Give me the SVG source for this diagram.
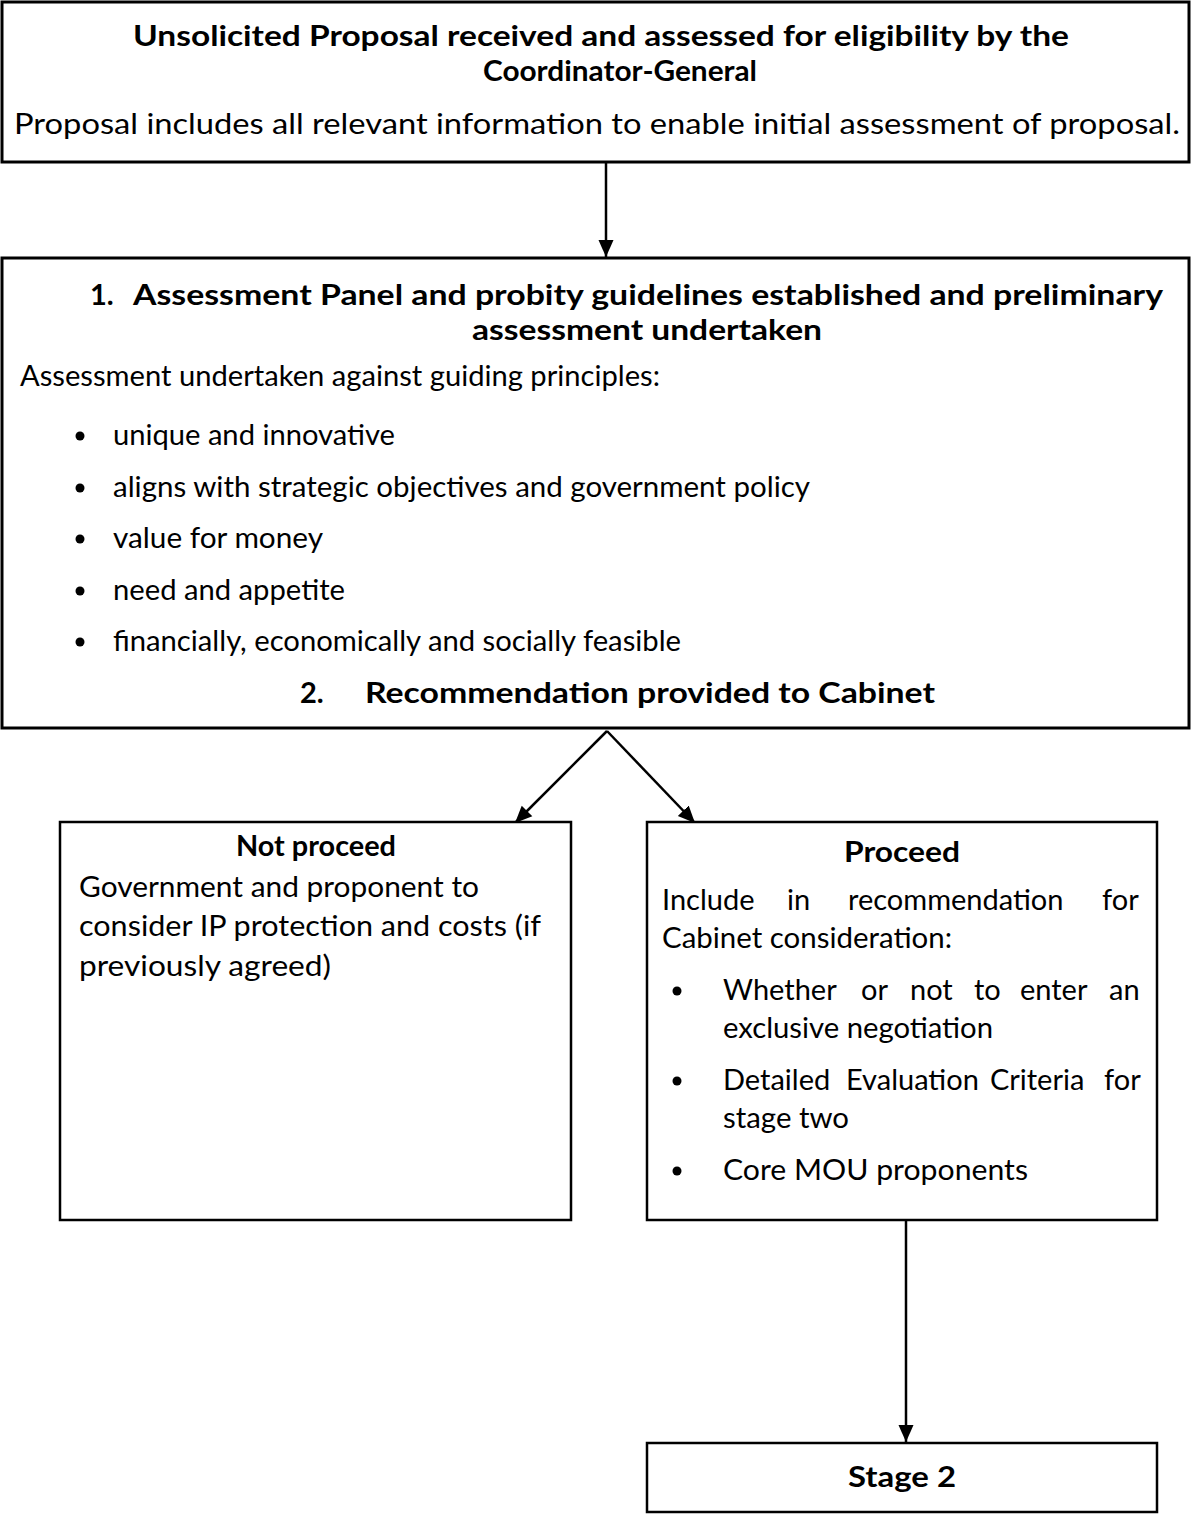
<svg xmlns="http://www.w3.org/2000/svg" width="1194" height="1516" viewBox="0 0 1194 1516">
  <style>
    .box { fill: #ffffff; stroke: #000000; stroke-width: 2.5; }
    .box-thick { fill: #ffffff; stroke: #000000; stroke-width: 3; }
    .t { font-family: "Lato", "Open Sans", "Liberation Sans", sans-serif; font-size: 29px; fill: #000000; }
    .b { font-weight: bold; }
    .mid { text-anchor: middle; }
    .edge { stroke: #000000; stroke-width: 2.5; fill: none; }
    .dot { fill: #000000; }
  </style>
  <defs>
    <marker id="arrow" markerUnits="userSpaceOnUse" markerWidth="18" markerHeight="18" viewBox="0 0 18 18" refX="17" refY="9" orient="auto">
      <path d="M0,1.5 L17,9 L0,16.5 Z" fill="#000000"/>
    </marker>
  </defs>

  <!-- connectors -->
  <g id="connectors">
    <line class="edge" x1="606" y1="163" x2="606" y2="257" marker-end="url(#arrow)"/>
    <line class="edge" x1="607" y1="731" x2="515" y2="823" marker-end="url(#arrow)"/>
    <line class="edge" x1="607" y1="731" x2="695" y2="823" marker-end="url(#arrow)"/>
    <line class="edge" x1="906" y1="1221" x2="906" y2="1442" marker-end="url(#arrow)"/>
  </g>

  <!-- intake -->
  <g id="node-intake">
    <rect class="box-thick" x="2" y="2" width="1187" height="160"/>
    <text class="t b mid" x="601" y="46" textLength="936" lengthAdjust="spacingAndGlyphs">Unsolicited Proposal received and assessed for eligibility by the</text>
    <text class="t b mid" x="620" y="81" textLength="274" lengthAdjust="spacingAndGlyphs">Coordinator-General</text>
    <text class="t mid" x="597" y="134" textLength="1166" lengthAdjust="spacingAndGlyphs">Proposal includes all relevant information to enable initial assessment of proposal.</text>
  </g>

  <!-- preliminary assessment -->
  <g id="node-assessment">
    <rect class="box-thick" x="2" y="258" width="1187" height="470"/>
    <text class="t b" x="90" y="305">1.</text>
    <text class="t b mid" x="648" y="305" textLength="1030" lengthAdjust="spacingAndGlyphs">Assessment Panel and probity guidelines established and preliminary</text>
    <text class="t b mid" x="647" y="340" textLength="350" lengthAdjust="spacingAndGlyphs">assessment undertaken</text>
    <text class="t" x="20" y="386" textLength="640" lengthAdjust="spacingAndGlyphs">Assessment undertaken against guiding principles:</text>
    <circle class="dot" cx="80" cy="436" r="4.5"/>
    <text class="t" x="113" y="445" textLength="282" lengthAdjust="spacingAndGlyphs">unique and innovative</text>
    <circle class="dot" cx="80" cy="488" r="4.5"/>
    <text class="t" x="113" y="497" textLength="697" lengthAdjust="spacingAndGlyphs">aligns with strategic objectives and government policy</text>
    <circle class="dot" cx="80" cy="539" r="4.5"/>
    <text class="t" x="113" y="548" textLength="210" lengthAdjust="spacingAndGlyphs">value for money</text>
    <circle class="dot" cx="80" cy="591" r="4.5"/>
    <text class="t" x="113" y="600" textLength="232" lengthAdjust="spacingAndGlyphs">need and appetite</text>
    <circle class="dot" cx="80" cy="642" r="4.5"/>
    <text class="t" x="113" y="651" textLength="568" lengthAdjust="spacingAndGlyphs">financially, economically and socially feasible</text>
    <text class="t b" x="300" y="703">2.</text>
    <text class="t b" x="365" y="703" textLength="570" lengthAdjust="spacingAndGlyphs">Recommendation provided to Cabinet</text>
  </g>

  <!-- not proceed -->
  <g id="node-not-proceed">
    <rect class="box" x="60" y="822" width="511" height="398"/>
    <text class="t b mid" x="316" y="856" textLength="160" lengthAdjust="spacingAndGlyphs">Not proceed</text>
    <text class="t" x="79" y="897" textLength="400" lengthAdjust="spacingAndGlyphs">Government and proponent to</text>
    <text class="t" x="79" y="936" textLength="462" lengthAdjust="spacingAndGlyphs">consider IP protection and costs (if</text>
    <text class="t" x="79" y="976" textLength="252" lengthAdjust="spacingAndGlyphs">previously agreed)</text>
  </g>

  <!-- proceed -->
  <g id="node-proceed">
    <rect class="box" x="647" y="822" width="510" height="398"/>
    <text class="t b mid" x="902" y="862" textLength="116" lengthAdjust="spacingAndGlyphs">Proceed</text>
    <text class="t" y="910"><tspan x="662">Include</tspan><tspan x="787">in</tspan><tspan x="848">recommendation</tspan><tspan x="1102">for</tspan></text>
    <text class="t" x="662" y="948" textLength="290" lengthAdjust="spacingAndGlyphs">Cabinet consideration:</text>
    <circle class="dot" cx="677" cy="991" r="4.5"/>
    <text class="t" y="1000"><tspan x="723">Whether</tspan><tspan x="861">or</tspan><tspan x="910">not</tspan><tspan x="974">to</tspan><tspan x="1020">enter</tspan><tspan x="1109">an</tspan></text>
    <text class="t" x="723" y="1038" textLength="270" lengthAdjust="spacingAndGlyphs">exclusive negotiation</text>
    <circle class="dot" cx="677" cy="1081" r="4.5"/>
    <text class="t" y="1090"><tspan x="723">Detailed</tspan><tspan x="846">Evaluation</tspan><tspan x="990">Criteria</tspan><tspan x="1104">for</tspan></text>
    <text class="t" x="723" y="1128" textLength="126" lengthAdjust="spacingAndGlyphs">stage two</text>
    <circle class="dot" cx="677" cy="1171" r="4.5"/>
    <text class="t" x="723" y="1180" textLength="305" lengthAdjust="spacingAndGlyphs">Core MOU proponents</text>
  </g>

  <!-- stage 2 -->
  <g id="node-stage2">
    <rect class="box" x="647" y="1443" width="510" height="69"/>
    <text class="t b mid" x="902" y="1487" textLength="108" lengthAdjust="spacingAndGlyphs">Stage 2</text>
  </g>
</svg>
